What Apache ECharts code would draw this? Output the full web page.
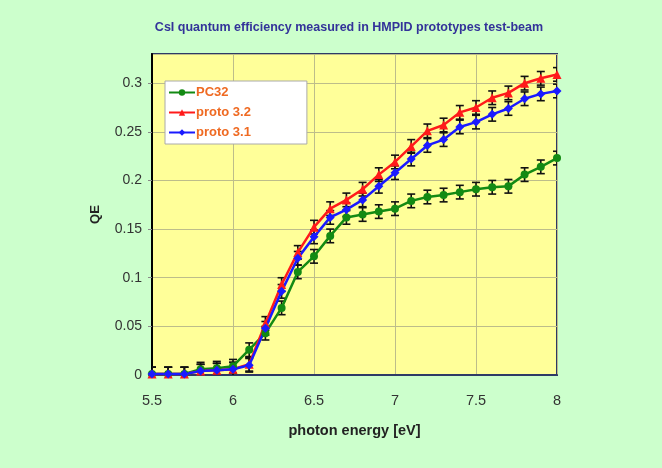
<!DOCTYPE html>
<html>
<head>
<meta charset="utf-8">
<script src="https://cdn.jsdelivr.net/npm/echarts@6/dist/echarts.min.js"></script>
<style>
html,body{margin:0;padding:0;background:#ccffcc;}
#c{width:662px;height:468px;}
</style>
</head>
<body>
<div id="c"></div>
<script>
const titleText = 'CsI quantum efficiency measured in HMPID prototypes test-beam';
const xName = 'photon energy [eV]';
const yName = 'QE';
const seriesNames = ['PC32', 'proto 3.2', 'proto 3.1'];
const energies = [5.5,5.6,5.7,5.8,5.9,6.0,6.1,6.2,6.3,6.4,6.5,6.6,6.7,6.8,6.9,7.0,7.1,7.2,7.3,7.4,7.5,7.6,7.7,7.8,7.9,8.0];
const pc32 = [0.001,0.001,0.001,0.006,0.007,0.009,0.026,0.043,0.069,0.106,0.122,0.143,0.162,0.165,0.168,0.171,0.179,0.183,0.185,0.188,0.191,0.193,0.194,0.206,0.214,0.223];
const proto32 = [0.001,0.001,0.001,0.004,0.005,0.006,0.011,0.053,0.093,0.126,0.152,0.171,0.180,0.191,0.206,0.219,0.235,0.251,0.257,0.270,0.275,0.285,0.290,0.300,0.305,0.309];
const proto31 = [0.001,0.001,0.001,0.004,0.005,0.006,0.010,0.048,0.086,0.120,0.142,0.162,0.170,0.180,0.194,0.208,0.222,0.236,0.242,0.255,0.260,0.268,0.274,0.284,0.289,0.292];
const pc32Err = [0.007,0.007,0.007,0.007,0.007,0.007,0.007,0.007,0.007,0.007,0.007,0.007,0.007,0.007,0.007,0.007,0.007,0.007,0.007,0.007,0.007,0.007,0.007,0.007,0.007,0.007];
const proto32Err = [0.007,0.007,0.007,0.007,0.007,0.007,0.007,0.007,0.007,0.007,0.007,0.007,0.007,0.007,0.007,0.007,0.007,0.007,0.007,0.007,0.007,0.007,0.007,0.007,0.007,0.007];
const proto31Err = [0.007,0.007,0.007,0.007,0.007,0.007,0.007,0.007,0.007,0.007,0.007,0.007,0.007,0.007,0.007,0.007,0.007,0.007,0.007,0.007,0.007,0.007,0.007,0.007,0.007,0.007];
const xTicks = [5.5, 6, 6.5, 7, 7.5, 8];

const colors = ['#138a13', '#ff1a1a', '#1a1aff'];
const symbols = ['circle', 'triangle', 'diamond'];
const symbolSizes = [8, 9, 9];
const values = [pc32, proto32, proto31];
const errs = [pc32Err, proto32Err, proto31Err];
const FONT = '"Liberation Sans", Arial, sans-serif';

function errRender(params, api) {
  const x = api.value(0), y = api.value(1), e = api.value(2);
  const hi = api.coord([x, y + e]);
  const lo = api.coord([x, y - e]);
  const w = 4;
  const st = {stroke: '#111', lineWidth: 1.6};
  return {
    type: 'group',
    children: [
      {type: 'line', shape: {x1: hi[0], y1: hi[1], x2: lo[0], y2: lo[1]}, style: st},
      {type: 'line', shape: {x1: hi[0]-w, y1: hi[1], x2: hi[0]+w, y2: hi[1]}, style: st},
      {type: 'line', shape: {x1: lo[0]-w, y1: lo[1], x2: lo[0]+w, y2: lo[1]}, style: st}
    ]
  };
}

const series = [];
for (let i = 0; i < 3; i++) {
  series.push({
    type: 'custom',
    name: seriesNames[i] + ' err',
    renderItem: errRender,
    clip: true,
    z: 1,
    silent: true,
    data: energies.map((x, k) => [x, values[i][k], errs[i][k]])
  });
}
for (let i = 0; i < 3; i++) {
  series.push({
    type: 'line',
    name: seriesNames[i],
    data: energies.map((x, k) => [x, values[i][k]]),
    symbol: symbols[i],
    symbolSize: symbolSizes[i],
    showAllSymbol: true,
    lineStyle: {color: colors[i], width: 2.5},
    itemStyle: {color: colors[i]},
    z: 3,
    animation: false
  });
}

const chart = echarts.init(document.getElementById('c'));
chart.setOption({
  animation: false,
  backgroundColor: '#ccffcc',
  title: {
    text: titleText,
    left: 344, top: 16, textAlign: 'center',
    textStyle: {fontFamily: FONT, fontSize: 12.5, fontWeight: 'bold', color: '#333399'}
  },
  legend: {
    data: seriesNames,
    orient: 'vertical',
    left: 165, top: 81,
    backgroundColor: '#ffffff',
    borderColor: '#aaaaaa',
    borderWidth: 1,
    padding: [5, 56, 5, 3],
    itemGap: 7,
    itemWidth: 26,
    itemHeight: 8,
    textStyle: {fontFamily: FONT, fontSize: 13, fontWeight: 'bold', color: '#ef6a22', padding: [0,0,0,-4]}
  },
  grid: {
    left: 152, right: 105, top: 54, bottom: 93,
    show: true, backgroundColor: '#ffff99', borderColor: '#2e3a66', borderWidth: 2
  },
  xAxis: {
    type: 'value', min: 5.5, max: 8, interval: 0.5,
    name: xName, nameLocation: 'middle', nameGap: 48,
    nameTextStyle: {fontFamily: FONT, fontSize: 14.5, fontWeight: 'bold', color: '#222'},
    axisLine: {show: true, lineStyle: {color: '#2e3a66', width: 2}},
    axisTick: {show: false},
    splitLine: {show: true, lineStyle: {color: '#bdbd8a', width: 1}},
    axisLabel: {fontFamily: FONT, fontSize: 14.5, color: '#333', margin: 18,
      formatter: v => xTicks.indexOf(Math.round(v*10)/10) >= 0 ? String(v) : ''}
  },
  yAxis: {
    type: 'value', min: 0, max: 0.33, interval: 0.05,
    name: yName, nameLocation: 'middle', nameGap: 50, nameRotate: 90,
    nameTextStyle: {fontFamily: FONT, fontSize: 13, fontWeight: 'bold', color: '#222'},
    axisLine: {show: true, onZero: false, lineStyle: {color: '#000', width: 2}},
    axisTick: {show: true, length: 4, lineStyle: {color: '#888'}},
    splitLine: {show: true, lineStyle: {color: '#bdbd8a', width: 1}},
    axisLabel: {fontFamily: FONT, fontSize: 14, color: '#333', margin: 10, showMaxLabel: false,
      formatter: v => (v > 0.31 ? '' : String(Math.round(v*100)/100))}
  },
  series: series
});
</script>
</body>
</html>
